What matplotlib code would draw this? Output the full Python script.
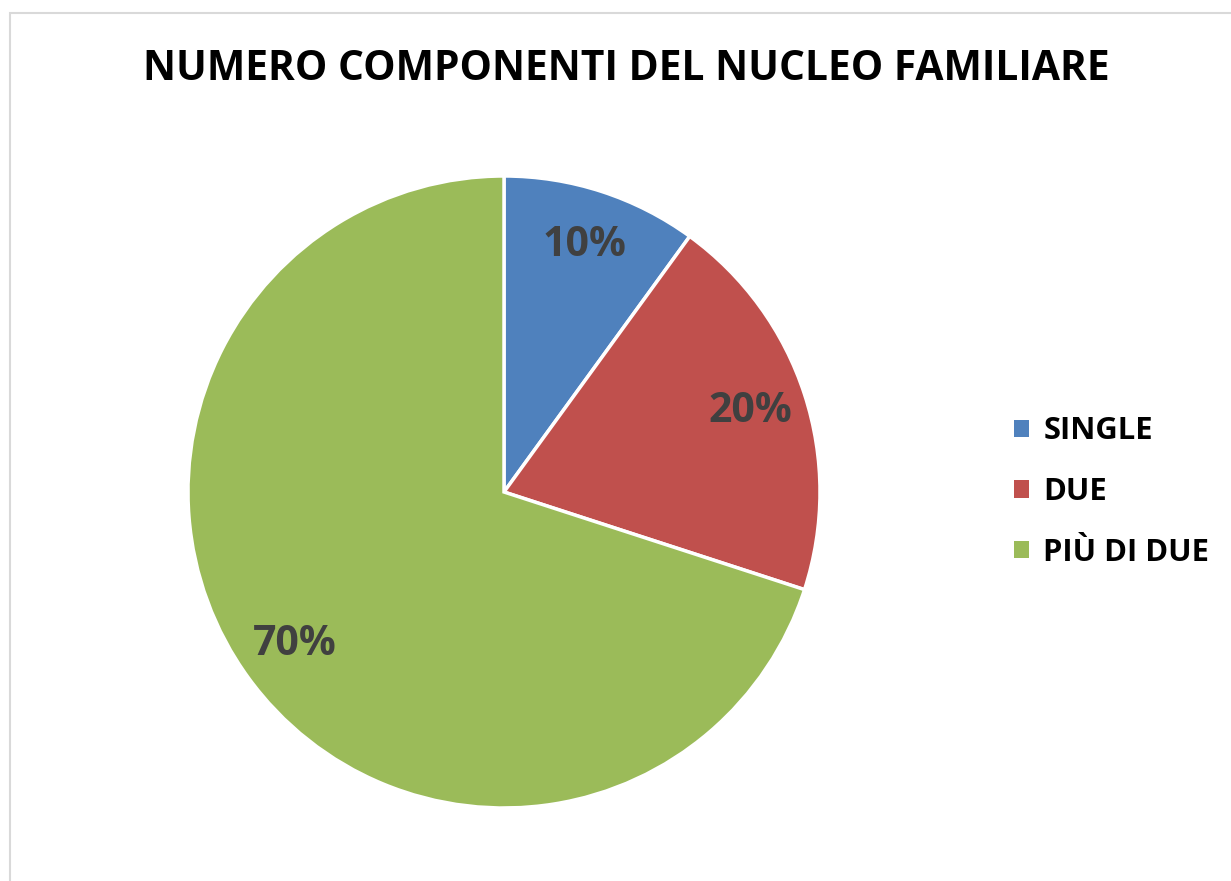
import matplotlib.pyplot as plt
from matplotlib.patches import Rectangle

# data
categories = ["SINGLE", "DUE", "PIÙ DI DUE"]
shares = [10, 20, 70]
colors = ["#4F81BD", "#C0504D", "#9BBB59"]
title = "NUMERO COMPONENTI DEL NUCLEO FAMILIARE"

W, H = 1231, 881
FONT = "Open Sans"

fig = plt.figure(figsize=(W / 100, H / 100), dpi=100)

# light grey chart frame (runs off the right/bottom edge like the original)
fig.patches.append(Rectangle((10 / W, -0.05), 1.1, 1 - 13 / H + 0.05,
                             transform=fig.transFigure, fill=False,
                             edgecolor="#D9D9D9", linewidth=1.5))

# pie axes: centre (504, 492) px, radius 316 px
cx, cy, r = 504, 492, 316
ax = fig.add_axes([(cx - r) / W, (H - cy - r) / H, 2 * r / W, 2 * r / H])
wedges, _, autotexts = ax.pie(
    shares, colors=colors, startangle=90, counterclock=False,
    autopct="%d%%", pctdistance=0.82, radius=1,
    wedgeprops=dict(edgecolor="white", linewidth=2.5),
)
for t in autotexts:
    t.set_fontsize(29.5)
    t.set_fontweight("bold")
    t.set_color("#404040")
    t.set_family(FONT)
ax.set_xlim(-1, 1)
ax.set_ylim(-1, 1)
ax.set_aspect("equal")
ax.axis("off")

fig.text(626 / W, 1 - 80 / H, title, ha="center", va="baseline",
         fontsize=29.3, fontweight="bold", family=FONT, color="black")

leg = fig.legend(wedges, categories, loc="center left",
                 bbox_to_anchor=(1014 / W, 1 - 492 / H), frameon=False,
                 prop=dict(family=FONT, weight="bold", size=22.3),
                 handlelength=0.5, handleheight=0.5, handletextpad=0.45,
                 labelspacing=0.99, borderpad=0, borderaxespad=0)
for h in leg.legend_handles:
    h.set_edgecolor("none")

fig.savefig("out.png", dpi=100)
